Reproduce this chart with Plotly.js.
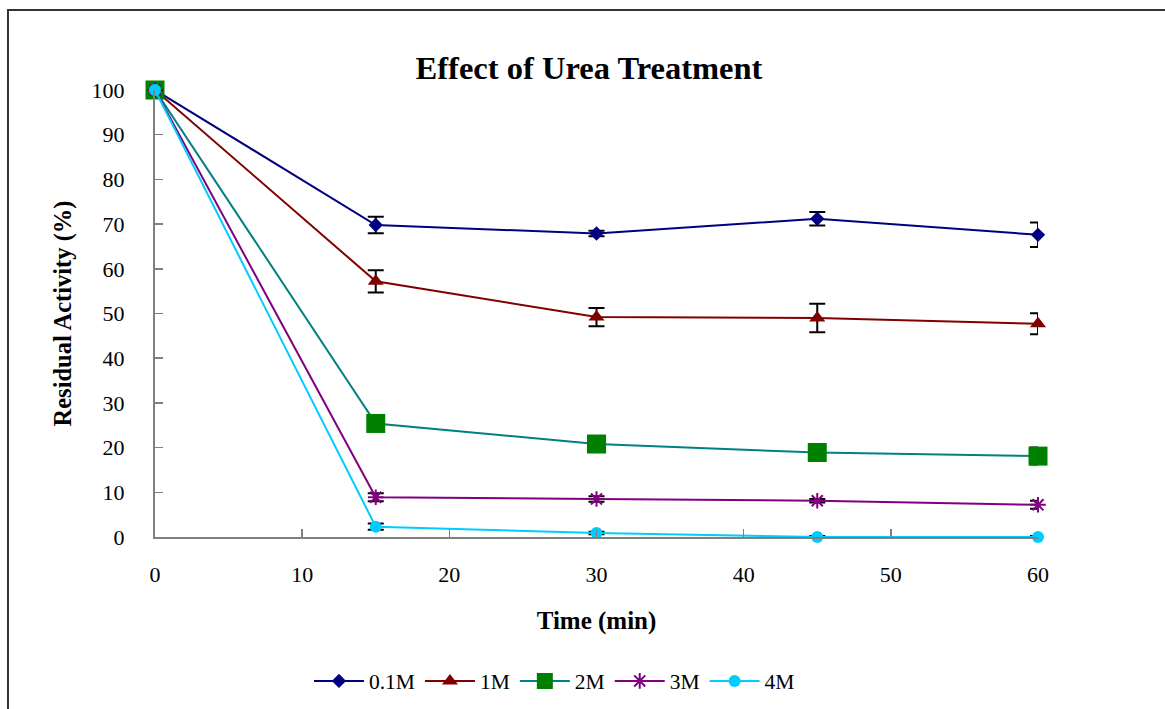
<!DOCTYPE html>
<html>
<head>
<meta charset="utf-8">
<script src="https://cdn.plot.ly/plotly-3.0.1.min.js"></script>
<style>
  html, body { margin: 0; padding: 0; background: #fff; }
  #chart { width: 1165px; height: 709px; }
</style>
</head>
<body>
<div id="chart"></div>
<script>
// Sampling times (min)
const times = [0, 15, 30, 45, 60];

// Residual activity (%) per urea concentration
const act01M = [100, 69.8, 67.9, 71.2, 67.6];
const act1M  = [100, 57.2, 49.2, 49.0, 47.7];
const act2M  = [100, 25.4, 20.8, 18.9, 18.1];
const act3M  = [100, 8.9, 8.5, 8.1, 7.2];
const act4M  = [100, 2.3, 0.9, 0.0, 0.0];

// Standard deviations
const err01M = [0, 1.85, 0.6, 1.5, 2.75];
const err1M  = [0, 2.5, 2.05, 3.2, 2.35];
const err2M  = [0, 1.0, 1.0, 1.0, 1.9];
const err3M  = [0, 0.9, 0.6, 0.4, 0.9];
const err4M  = [0, 0.7, 0.3, 0.2, 0.2];

const seriesNames = ['0.1M', '1M', '2M', '3M', '4M'];

const serif = 'Liberation Serif, Times New Roman, serif';

function series(name, y, err, lineColor, marker) {
  return {
    x: times, y: y, name: name,
    type: 'scatter', mode: 'lines+markers',
    cliponaxis: false,
    line: { color: lineColor, width: 2 },
    marker: marker,
    error_y: { type: 'data', array: err, visible: true, color: '#000', thickness: 2, width: 8 }
  };
}

const data = [
  series(seriesNames[0], act01M, err01M, '#000080', { symbol: 'diamond', size: 11, color: '#000080' }),
  series(seriesNames[1], act1M,  err1M,  '#800000', { symbol: 'triangle-up', size: 14, color: '#800000' }),
  series(seriesNames[2], act2M,  err2M,  '#008080', { symbol: 'square', size: 19, color: '#008000' }),
  series(seriesNames[3], act3M,  err3M,  '#800080', { symbol: 'asterisk-open', size: 13, color: '#800080', line: { color: '#800080', width: 2 } }),
  series(seriesNames[4], act4M,  err4M,  '#00CCFF', { symbol: 'circle', size: 12, color: '#00CCFF' })
];

const layout = {
  width: 1165, height: 709,
  margin: { l: 155, r: 127, t: 90, b: 172, autoexpand: false },
  paper_bgcolor: '#fff', plot_bgcolor: '#fff',
  font: { family: serif, color: '#000', size: 22 },
  showlegend: true,
  title: {
    text: '<b>Effect of Urea Treatment</b>',
    font: { family: serif, size: 32.5, color: '#000' },
    x: 0.5056, xanchor: 'center', xref: 'container',
    y: 0.904, yanchor: 'middle', yref: 'container'
  },
  xaxis: {
    range: [0, 60], tickvals: [0, 10, 20, 30, 40, 50, 60],
    showgrid: false, zeroline: false,
    showline: true, linecolor: '#808080', linewidth: 2,
    ticks: 'inside', ticklen: 8, tickwidth: 1.5, tickcolor: '#808080',
    ticklabelstandoff: 17,
    tickfont: { family: serif, size: 22, color: '#000' },
    title: { text: '<b>Time (min)</b>', font: { family: serif, size: 25, color: '#000' }, standoff: 25 }
  },
  yaxis: {
    range: [0, 100], dtick: 10,
    showgrid: false, zeroline: false,
    showline: true, linecolor: '#808080', linewidth: 2,
    ticks: 'inside', ticklen: 8, tickwidth: 1.5, tickcolor: '#808080',
    ticklabelstandoff: 24,
    tickfont: { family: serif, size: 22, color: '#000' },
    title: { text: '<b>Residual Activity (%)</b>', font: { family: serif, size: 24.5, color: '#000' }, standoff: 13 }
  },
  legend: {
    orientation: 'h', x: 0.4524, xanchor: 'center', y: -0.322, yanchor: 'middle',
    font: { family: serif, size: 21.5, color: '#000' },
    itemwidth: 50, bgcolor: 'rgba(0,0,0,0)'
  },
  shapes: [{
    type: 'rect', xref: 'paper', yref: 'paper',
    x0: -0.1665, x1: 1.25, y0: -0.6, y1: 1.179,
    line: { color: '#333', width: 2 }, fillcolor: 'rgba(0,0,0,0)', layer: 'below'
  }]
};

Plotly.newPlot('chart', data, layout, { displayModeBar: false, staticPlot: true });
</script>
</body>
</html>
